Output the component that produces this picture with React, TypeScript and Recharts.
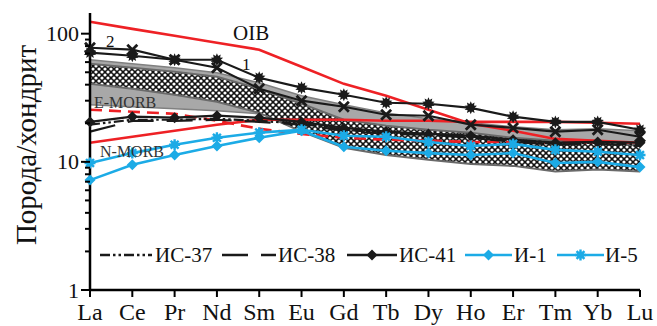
import React from "react";
import { ComposedChart, Line, Area, XAxis, YAxis } from "recharts";

// REE, chondrite-normalised
const elements = ["La", "Ce", "Pr", "Nd", "Sm", "Eu", "Gd", "Tb", "Dy", "Ho", "Er", "Tm", "Yb", "Lu"];

// reference fields
const grayTop = [62.6, 58.3, 54.2, 49.5, 41.4, 32.8, 27.9, 24.1, 21.7, 20.2, 18.8, 17.8, 18.1, 17.5];
const grayBottom = [27.9, 26.9, 25.9, 25.0, 23.7, 21.3, 19.5, 17.8, 16.9, 16.0, 14.9, 14.1, 14.3, 14.1];
const hatchTop = [58.3, 54.2, 50.5, 46.1, 37.2, 28.4, 21.3, 19.1, 17.8, 16.9, 15.4, 14.6, 14.6, 13.3];
const hatchBottom = [40.6, 37.2, 33.4, 29.4, 24.1, 17.2, 12.9, 11.3, 10.4, 9.6, 9.3, 8.4, 8.7, 8.4];

// reference basalts
const oib = [124, 109, 96.5, 85, 75, 55.2, 40.6, 32.8, 25.5, 19.8, 17.5, 15.1, 14.6, 14.1];
const nMorb = [14.1, 15.7, 17.5, 19.5, 21.3, 21.3, 21.3, 20.9, 20.9, 20.5, 20.5, 20.5, 20.2, 19.8];
const eMorb = [25.5, 24.6, 23.7, 20.9, 18.1, 16.5, 15.4, 14.9, 14.6, 14.3, 14.3, 14.1, 14.3, 14.1];

// lines 1 and 2
const line1 = [71.1, 67.3, 62.6, 62.6, 45.3, 37.9, 33.4, 28.9, 28.4, 26.4, 22.5, 20.5, 20.5, 17.8];
const line2 = [77.7, 75.0, 62.6, 54.2, 37.2, 30.0, 26.9, 23.3, 22.9, 19.5, 18.4, 17.2, 17.8, 15.7];

// samples
const is37 = [19.5, 21.3, 21.3, 21.7, 20.9, 19.8, 17.8, 16.9, 16.5, 15.7, 14.6, 13.8, 14.1, 13.6];
const is38 = [17.2, 20.9, 20.9, 21.3, 20.5, 19.5, 17.5, 16.5, 16.3, 15.4, 14.3, 13.6, 13.8, 13.3];
const is41 = [20.5, 22.5, 22.1, 22.9, 22.1, 20.5, 18.4, 17.2, 16.5, 16.0, 14.9, 14.1, 14.3, 14.1];
const i1 = [7.2, 9.5, 11.3, 13.3, 15.4, 17.5, 13.1, 12.2, 11.7, 11.3, 11.7, 9.8, 10.0, 9.1];
const i5 = [9.8, 11.7, 13.6, 15.4, 16.9, 17.8, 16.0, 15.7, 14.3, 13.3, 13.8, 12.4, 12.0, 11.3];

const yTicks = [1, 2, 3, 4, 5, 6, 7, 8, 9, 10, 20, 30, 40, 50, 60, 70, 80, 90, 100];
const yMajor = [1, 10, 100];

const data = elements.map((el, i) => ({
  i,
  el,
  grayField: [grayBottom[i], grayTop[i]],
  hatchField: [hatchBottom[i], hatchTop[i]],
  oib: oib[i],
  nMorb: nMorb[i],
  eMorb: eMorb[i],
  line1: line1[i],
  line2: line2[i],
  is37: is37[i],
  is38: is38[i],
  is41: is41[i],
  i1: i1[i],
  i5: i5[i],
}));

const RED = "#ee2125";
const CYAN = "#1cabe6";
const BLACK = "#1a1a1a";
const FONT = "'Liberation Serif', 'Times New Roman', serif";

function starPoints(cx: number, cy: number, ro: number, ri: number, n: number) {
  const pts: string[] = [];
  for (let k = 0; k < n * 2; k++) {
    const r = k % 2 === 0 ? ro : ri;
    const a = (Math.PI * k) / n - Math.PI / 2;
    pts.push(`${cx + r * Math.cos(a)},${cy + r * Math.sin(a)}`);
  }
  return pts.join(" ");
}

const BurstDot = (p: any) => (
  <polygon key={p.index} points={starPoints(p.cx, p.cy, 6.5, 3.9, 10)} fill={BLACK} />
);

const CrossDot = (p: any) => {
  const { cx, cy } = p;
  const s = 5;
  return (
    <path
      key={p.index}
      d={`M${cx - s},${cy - s}L${cx + s},${cy + s}M${cx + s},${cy - s}L${cx - s},${cy + s}`}
      stroke={BLACK}
      strokeWidth={2.8}
    />
  );
};

const diamondDot = (color: string, r: number) => (p: any) => {
  const { cx, cy } = p;
  return (
    <polygon
      key={p.index}
      points={`${cx},${cy - r} ${cx + r},${cy} ${cx},${cy + r} ${cx - r},${cy}`}
      fill={color}
    />
  );
};

const AsteriskDot = (p: any) => {
  const { cx, cy } = p;
  const s = 5.5;
  const d = s * 0.72;
  return (
    <g key={p.index} stroke={CYAN} strokeWidth={2.4}>
      <path d={`M${cx - s},${cy}L${cx + s},${cy}M${cx},${cy - s}L${cx},${cy + s}M${cx - d},${cy - d}L${cx + d},${cy + d}M${cx + d},${cy - d}L${cx - d},${cy + d}`} />
      <circle cx={cx} cy={cy} r={2.4} fill={CYAN} />
    </g>
  );
};

const YTick = (props: any) => {
  const { x, y, payload } = props;
  const major = yMajor.includes(payload.value);
  return (
    <g>
      <line x1={x - (major ? 9 : 5)} x2={x} y1={y} y2={y} stroke="#000" strokeWidth={2} />
      {major && (
        <text x={x - 11} y={y} textAnchor="end" dominantBaseline="central" fontSize={22} fontFamily={FONT} fill="#111">
          {payload.value}
        </text>
      )}
    </g>
  );
};

const XTick = (props: any) => {
  const { x, y, payload } = props;
  return (
    <g>
      <line x1={x} x2={x} y1={y} y2={y + 7} stroke="#000" strokeWidth={2} />
      <text x={x} y={y + 30} textAnchor="middle" fontSize={24} fontFamily={FONT} fill="#111">
        {elements[payload.value]}
      </text>
    </g>
  );
};

const legendItems = [
  { name: "ИС-37", color: BLACK, dash: "10 3 2.5 3 2.5 3", marker: null as any, x0: 100, x1: 152, tx: 155 },
  { name: "ИС-38", color: BLACK, dash: "26 13", marker: null as any, x0: 222, x1: 276, tx: 278 },
  { name: "ИС-41", color: BLACK, dash: undefined, marker: diamondDot(BLACK, 5.5), x0: 347, x1: 397, tx: 399 },
  { name: "И-1", color: CYAN, dash: undefined, marker: diamondDot(CYAN, 5.5), x0: 465, x1: 512, tx: 514 },
  { name: "И-5", color: CYAN, dash: undefined, marker: AsteriskDot, x0: 557, x1: 604, tx: 605 },
];

export default function App() {
  return (
    <div style={{ position: "absolute", left: 0, top: 0, width: 657, height: 326, background: "#fff" }}>
      <svg width={0} height={0} style={{ position: "absolute" }}>
        <defs>
          <pattern id="hatch" width={6} height={6} patternUnits="userSpaceOnUse">
            <rect width={6} height={6} fill="#111" />
            <circle cx={0} cy={0} r={1.6} fill="#fff" />
            <circle cx={6} cy={0} r={1.6} fill="#fff" />
            <circle cx={0} cy={6} r={1.6} fill="#fff" />
            <circle cx={6} cy={6} r={1.6} fill="#fff" />
            <circle cx={3} cy={3} r={1.6} fill="#fff" />
          </pattern>
        </defs>
      </svg>
      <ComposedChart width={657} height={326} data={data} margin={{ top: 13, right: 17, bottom: 0, left: 0 }}>
        <XAxis
          type="number"
          dataKey="i"
          domain={[0, 13]}
          ticks={elements.map((_, i) => i)}
          interval={0}
          height={36}
          tickSize={0}
          tickMargin={0}
          tick={<XTick />}
          axisLine={{ stroke: "#000", strokeWidth: 2.5 }}
        />
        <YAxis
          scale="log"
          domain={[1, 145]}
          allowDataOverflow
          ticks={yTicks}
          interval={0}
          width={90}
          tickSize={0}
          tickMargin={0}
          tick={<YTick />}
          axisLine={{ stroke: "#000", strokeWidth: 2.5 }}
        />

        <Area type="linear" dataKey="grayField" fill="#a8a8a8" fillOpacity={1} stroke="#808080" strokeWidth={1.5} isAnimationActive={false} />
        <Area type="linear" dataKey="hatchField" fill="url(#hatch)" fillOpacity={1} stroke="#6a6a6a" strokeWidth={2} isAnimationActive={false} />

        <Line type="linear" dataKey="oib" stroke={RED} strokeWidth={2.6} dot={false} isAnimationActive={false} />
        <Line type="linear" dataKey="nMorb" stroke={RED} strokeWidth={2.6} dot={false} isAnimationActive={false} />
        <Line type="linear" dataKey="eMorb" stroke={RED} strokeWidth={2.6} strokeDasharray="12 7" dot={false} isAnimationActive={false} />

        <Line type="linear" dataKey="line1" stroke={BLACK} strokeWidth={2.2} dot={BurstDot} isAnimationActive={false} />
        <Line type="linear" dataKey="line2" stroke={BLACK} strokeWidth={2.2} dot={CrossDot} isAnimationActive={false} />

        <Line type="linear" dataKey="is37" stroke={BLACK} strokeWidth={2.2} strokeDasharray="10 3 2.5 3 2.5 3" dot={false} isAnimationActive={false} />
        <Line type="linear" dataKey="is38" stroke={BLACK} strokeWidth={2.2} strokeDasharray="26 13" dot={false} isAnimationActive={false} />
        <Line type="linear" dataKey="is41" stroke={BLACK} strokeWidth={2.2} dot={diamondDot(BLACK, 5.5)} isAnimationActive={false} />

        <Line type="linear" dataKey="i1" stroke={CYAN} strokeWidth={2.6} dot={diamondDot(CYAN, 5.5)} isAnimationActive={false} />
        <Line type="linear" dataKey="i5" stroke={CYAN} strokeWidth={2.6} dot={AsteriskDot} isAnimationActive={false} />
      </ComposedChart>

      <svg width={657} height={326} style={{ position: "absolute", left: 0, top: 0, pointerEvents: "none" }}>
        <text
          x={26}
          y={145}
          transform="rotate(-90 26 145)"
          textAnchor="middle"
          dominantBaseline="central"
          fontSize={29}
          fontFamily={FONT}
          fill="#111"
        >
          Порода/хондрит
        </text>
        <text x={233} y={40} fontSize={21} fontFamily={FONT} fill="#111">OIB</text>
        <text x={106} y={47} fontSize={17} fontFamily={FONT} fill="#111">2</text>
        <text x={242} y={70} fontSize={17} fontFamily={FONT} fill="#111">1</text>
        <text x={94} y={108} fontSize={16} fontFamily={FONT} fill="#333">E-MORB</text>
        <text x={100} y={157} fontSize={16} fontFamily={FONT} fill="#333">N-MORB</text>

        {legendItems.map((it) => (
          <g key={it.name}>
            <line x1={it.x0} x2={it.x1} y1={255} y2={255} stroke={it.color} strokeWidth={2.6} strokeDasharray={it.dash} />
            {it.marker && it.marker({ cx: (it.x0 + it.x1) / 2, cy: 255, index: 0 })}
            <text x={it.tx} y={262} fontSize={21} fontFamily={FONT} fill="#111">{it.name}</text>
          </g>
        ))}
      </svg>
    </div>
  );
}
